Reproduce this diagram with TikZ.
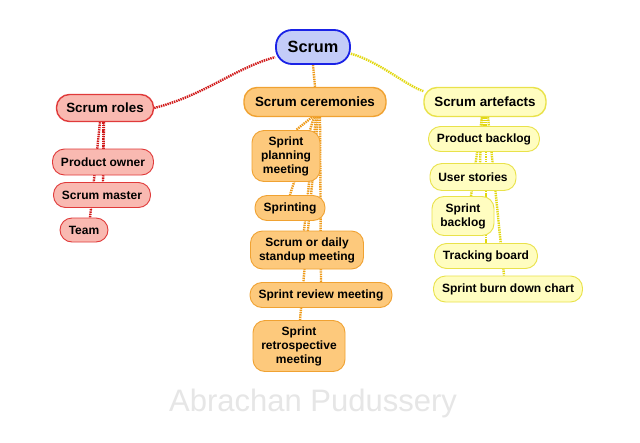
\documentclass[tikz,border=0pt]{standalone}
\usepackage{fontspec}
\setmainfont{Liberation Sans}
\usetikzlibrary{backgrounds}
\definecolor{rootfill}{HTML}{C3CCF8}
\definecolor{rootdraw}{HTML}{1A22E6}
\definecolor{redfill}{HTML}{F9B9B1}
\definecolor{reddraw}{HTML}{E03A3A}
\definecolor{redline}{HTML}{D01818}
\definecolor{orfill}{HTML}{FDC97C}
\definecolor{ordraw}{HTML}{F0A232}
\definecolor{orline}{HTML}{EE9A18}
\definecolor{yefill}{HTML}{FFFDC0}
\definecolor{yedraw}{HTML}{E9E24A}
\definecolor{yeline}{HTML}{E2D810}
\definecolor{wm}{HTML}{E6E6E6}
\tikzset{
  bx/.style={rounded corners=12pt, inner sep=0pt, align=center, font=\bfseries\fontsize{12}{14}\selectfont},
  rootbox/.style={bx, rounded corners=16pt, fill=rootfill, draw=rootdraw, line width=1.8pt, font=\bfseries\fontsize{16.3}{18}\selectfont},
  redtop/.style={bx, rounded corners=13pt, fill=redfill, draw=reddraw, line width=1.4pt, font=\bfseries\fontsize{13.4}{15}\selectfont},
  ortop/.style={bx, rounded corners=13pt, fill=orfill, draw=ordraw, line width=1.4pt, font=\bfseries\fontsize{13.4}{15}\selectfont},
  yetop/.style={bx, rounded corners=13pt, fill=yefill, draw=yedraw, line width=1.4pt, font=\bfseries\fontsize{13.4}{15}\selectfont},
  redbox/.style={bx, fill=redfill, draw=reddraw, line width=0.9pt},
  orbox/.style={bx, fill=orfill, draw=ordraw, line width=0.9pt},
  yebox/.style={bx, fill=yefill, draw=yedraw, line width=0.9pt},
  conn/.style={line width=2.4pt, dash pattern=on 1.4pt off 0.9pt},
}
\begin{document}
\begin{tikzpicture}[x=1pt,y=-1pt]
\useasboundingbox (0,0) rectangle (640,442);
% watermark
\node[text=wm, font=\fontsize{31}{34}\selectfont] (wm) at (313,403) {Abrachan Pudussery};
% root
\node[rootbox, minimum width=74pt, minimum height=34pt] (root) at (313,47) {Scrum};
% roles
\node[redtop, minimum width=97pt, minimum height=27pt] (roles) at (105,108) {Scrum roles};
\node[redbox, minimum width=101pt, minimum height=26pt] (po) at (103,162) {Product owner};
\node[redbox, minimum width=97pt, minimum height=25pt] (sm) at (102,195) {Scrum master};
\node[redbox, minimum width=48pt, minimum height=24pt] (team) at (84,230) {Team};
% ceremonies
\node[ortop, minimum width=142pt, minimum height=29pt] (cer) at (315,102) {Scrum ceremonies};
\node[orbox, minimum width=68pt, minimum height=51pt] (plan) at (286,156) {Sprint\\planning\\meeting};
\node[orbox, minimum width=70pt, minimum height=25pt] (sprinting) at (290,208) {Sprinting};
\node[orbox, minimum width=113pt, minimum height=38pt] (daily) at (307,250) {Scrum or daily\\standup meeting};
\node[orbox, minimum width=142pt, minimum height=25pt] (review) at (321,295) {Sprint review meeting};
\node[orbox, minimum width=92pt, minimum height=51pt] (retro) at (299,346) {Sprint\\retrospective\\meeting};
% artefacts
\node[yetop, minimum width=122pt, minimum height=29pt] (art) at (485,102) {Scrum artefacts};
\node[yebox, minimum width=111pt, minimum height=25pt] (pb) at (484,139) {Product backlog};
\node[yebox, minimum width=86pt, minimum height=27pt] (us) at (473,177) {User stories};
\node[yebox, minimum width=62pt, minimum height=39pt] (sb) at (463,216) {Sprint\\backlog};
\node[yebox, minimum width=103pt, minimum height=25pt] (tb) at (486,256) {Tracking board};
\node[yebox, minimum width=149pt, minimum height=26pt] (bdc) at (508,289) {Sprint burn down chart};
\begin{scope}[on background layer]
\fill[white] (0,0) rectangle (640,442);
% root links
\draw[conn, redline] (roles.east) .. controls (205,95) and (235,68) .. (root.195);
\draw[conn, orline] (root.south) -- (cer.north);
\draw[conn, yeline] (root.350) .. controls (380,62) and (405,85) .. (art.170);
% roles links
\draw[conn, redline] ([xshift=-2pt]roles.south) -- ([xshift=0pt]po.north);
\draw[conn, redline] ([xshift=-1pt]roles.south) -- ([xshift=1pt]sm.north);
\draw[conn, redline] ([xshift=-5pt]roles.south) -- ([xshift=6pt]team.north);
% ceremonies links
\draw[conn, orline] ([xshift=-3pt]cer.south) -- ([xshift=10pt]plan.north);
\draw[conn, orline] ([xshift=-1pt]cer.south) -- ([xshift=0pt]sprinting.north);
\draw[conn, orline] ([xshift=1pt]cer.south) -- ([xshift=-3pt]daily.north);
\draw[conn, orline] ([xshift=5pt]cer.south) -- ([xshift=0pt]review.north);
\draw[conn, orline] ([xshift=3pt]cer.south) -- ([xshift=1pt]retro.north);
% artefacts links
\draw[conn, yeline] ([xshift=-1pt]art.south) -- ([xshift=0pt]pb.north);
\draw[conn, yeline] ([xshift=-3pt]art.south) -- ([xshift=7pt]us.north);
\draw[conn, yeline] ([xshift=-3pt]art.south) -- ([xshift=8pt]sb.north);
\draw[conn, yeline] ([xshift=1pt]art.south) -- ([xshift=0pt]tb.north);
\draw[conn, yeline] ([xshift=3pt]art.south) -- ([xshift=-4pt]bdc.north);
\end{scope}
\end{tikzpicture}
\end{document}
